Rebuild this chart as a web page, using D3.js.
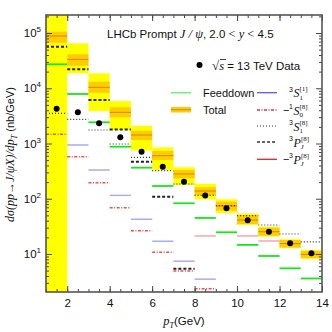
<!DOCTYPE html>
<html><head><meta charset="utf-8">
<script src="https://cdn.jsdelivr.net/npm/d3@7"></script>
<style>body{margin:0;background:#fff} svg{display:block}</style>
</head><body><svg id="c" width="332" height="332"></svg>
<script>
// ---- data ----
const binEdges = [1,2,3,4,5,6,7,8,9,10,11,12,13,14];
const dataValues     = [4266,3670,2322,1295,711,380,204,114,67,40.7,25.3,15.6,10.3];
const totalCentral   = [88300,33400,10400,3670,1425,601,281,138,74,41.2,25.3,15.4,9.8];
const totalOuterLow  = [1,18650,3873,1755,741,331,177,96.9,55.2,33.5,20.6,12.7,8.1];
const totalOuterHigh = [1e6,65100,18650,5880,2100,853,371,185,97.7,54.1,31.2,18.5,11.8];
const totalInnerLow  = [66700,25600,8300,2980,1157,503,234,117,60.8,34.9,21.4,13.1,8.5];
const totalInnerHigh = [105600,41150,13150,4520,1706,731,331,161,88.5,50.8,29.9,17.9,11.3];
const feeddown       = [27130,7870,2420,875,365,170,82.8,44.9,24.7,14.6,9.2,5.5,3.6];
const s1Singlet      = [null,940,331,115,42.5,17.0,7.4,3.5,null,null,null,null,null];
const s0OctetNeg     = [1468,577,195,68.9,26.4,10.7,4.9,2.35,null,null,null,null,null];
const s1Octet        = [3520,2740,1755,979,562,322,185,115,74.8,49.3,33.5,23.0,16.5];
const pjOctet        = [56500,22000,6130,1792,469,109,5.4,null,null,null,null,null,null];
const pjOctetNeg     = [null,null,null,null,null,null,null,21.2,null,21.2,17.2,null,null];
const yTickValues = [10,100,1000,10000,100000];
const yTickExponents = ["1","2","3","4","5"];
const xTickValues = [2,4,6,8,10,12,14];
const xTickLabels = ["2","4","6","8","10","12","14"];

const svg = d3.select("#c");
const L=46,R=322,T=15,B=292;
const x = d3.scaleLinear().domain([1,14]).range([L,R]);
const y = d3.scaleLog().domain([2.05,2.12e5]).range([B,T]);
const SANS = "'Liberation Sans', Arial, sans-serif";
const SERIF = "'Liberation Serif', 'DejaVu Serif', serif";

svg.append("defs").append("clipPath").attr("id","clip")
  .append("rect").attr("x",L).attr("y",T).attr("width",R-L).attr("height",B-T);
const plot = svg.append("g").attr("clip-path","url(#clip)");
const bins = d3.range(binEdges.length-1);

// total bands
plot.selectAll(".outer").data(bins).join("rect")
  .attr("x",i=>x(binEdges[i])).attr("width",i=>x(binEdges[i+1])-x(binEdges[i]))
  .attr("y",i=>y(totalOuterHigh[i])).attr("height",i=>y(totalOuterLow[i])-y(totalOuterHigh[i]))
  .attr("fill","#ffff00");
plot.selectAll(".inner").data(bins).join("rect")
  .attr("x",i=>x(binEdges[i])).attr("width",i=>x(binEdges[i+1])-x(binEdges[i]))
  .attr("y",i=>y(totalInnerHigh[i])).attr("height",i=>y(totalInnerLow[i])-y(totalInnerHigh[i]))
  .attr("fill","#ffcc00");

function segs(vals, style){
  const idx = bins.filter(i=>vals[i]!=null);
  const s = plot.append("g").selectAll("line").data(idx).join("line")
    .attr("x1",i=>x(binEdges[i])).attr("x2",i=>x(binEdges[i+1]))
    .attr("y1",i=>y(vals[i])).attr("y2",i=>y(vals[i]));
  for (const k in style) s.attr(k, style[k]);
}
segs(totalCentral,{stroke:"#c88a10","stroke-width":1});
segs(s1Singlet,{stroke:"#a9acf2","stroke-width":1.5});
segs(pjOctetNeg,{stroke:"#f4a8a8","stroke-width":1.5});
segs(s0OctetNeg,{stroke:"#f03030","stroke-width":1.5,"stroke-dasharray":"3,1.5,1,1.5","stroke-opacity":0.85});
segs(s1Octet,{stroke:"#333","stroke-width":1.2,"stroke-dasharray":"1,2"});
segs(pjOctet,{stroke:"#222","stroke-width":2,"stroke-dasharray":"3,2"});
segs(feeddown,{stroke:"#19e619","stroke-width":1.8});

plot.selectAll(".dot").data(bins).join("circle")
  .attr("cx",i=>x((binEdges[i]+binEdges[i+1])/2)).attr("cy",i=>y(dataValues[i]))
  .attr("r",3).attr("fill","#000");

// axes (ticks inside)
function clean(g){ g.select(".domain").remove(); g.selectAll("line").attr("stroke","#444"); }
const minorX = d3.range(1,14.001,0.5);
svg.append("g").attr("transform",`translate(0,${B})`).call(d3.axisBottom(x).tickValues(minorX).tickSize(-3).tickFormat("")).call(clean);
svg.append("g").attr("transform",`translate(0,${T})`).call(d3.axisTop(x).tickValues(minorX).tickSize(-3).tickFormat("")).call(clean);
svg.append("g").attr("transform",`translate(0,${T})`).call(d3.axisTop(x).tickValues(xTickValues).tickSize(-6).tickFormat("")).call(clean);
const xb = svg.append("g").attr("transform",`translate(0,${B})`)
  .call(d3.axisBottom(x).tickValues(xTickValues).tickSize(-6).tickPadding(7).tickFormat((d,i)=>xTickLabels[i])).call(clean);
xb.selectAll("text").attr("font-family",SANS).attr("font-size",11.5).attr("fill","#111");

const minorY = [];
for (const dec of [1,10,100,1000,10000,100000]) for (let m=2;m<=9;m++){ const v=m*dec; if(v>=2.05&&v<=2.12e5) minorY.push(v); }
svg.append("g").attr("transform",`translate(${L},0)`).call(d3.axisLeft(y).tickValues(minorY).tickSize(-3).tickFormat("")).call(clean);
svg.append("g").attr("transform",`translate(${R},0)`).call(d3.axisRight(y).tickValues(minorY).tickSize(-3).tickFormat("")).call(clean);
svg.append("g").attr("transform",`translate(${L},0)`).call(d3.axisLeft(y).tickValues(yTickValues).tickSize(-6).tickFormat("")).call(clean);
svg.append("g").attr("transform",`translate(${R},0)`).call(d3.axisRight(y).tickValues(yTickValues).tickSize(-6).tickFormat("")).call(clean);

yTickValues.forEach((v,i)=>{
  const t = svg.append("text").attr("x",41).attr("y",y(v)+4).attr("text-anchor","end")
    .attr("font-family",SANS).attr("font-size",11.5).attr("fill","#111");
  t.append("tspan").text("10");
  t.append("tspan").attr("font-size",8).attr("dy",-5).text(yTickExponents[i]);
});

svg.append("rect").attr("x",L).attr("y",T).attr("width",R-L).attr("height",B-T)
  .attr("fill","none").attr("stroke","#555").attr("stroke-width",1.6);

// title
const tt = svg.append("text").attr("x",107).attr("y",37.5).attr("font-family",SANS).attr("font-size",11.5).attr("fill","#111");
tt.append("tspan").text("LHCb Prompt ");
tt.append("tspan").attr("font-family",SERIF).attr("font-style","italic").attr("font-size",12.5).text("J / ψ");
tt.append("tspan").text(", 2.0 ");
tt.append("tspan").attr("font-family",SERIF).attr("font-size",12.5).text("<");
tt.append("tspan").attr("font-family",SERIF).attr("font-style","italic").attr("font-size",12.5).text(" y ");
tt.append("tspan").attr("font-family",SERIF).attr("font-size",12.5).text("<");
tt.append("tspan").text(" 4.5");

// legend: data
svg.append("circle").attr("cx",199.5).attr("cy",65).attr("r",3).attr("fill","#000");
const ds = svg.append("text").attr("x",212).attr("y",69.5).attr("font-family",SANS).attr("font-size",11.5).attr("fill","#111");
ds.append("tspan").attr("font-family",SERIF).attr("font-size",13).text("√");
ds.append("tspan").attr("font-family",SERIF).attr("font-style","italic").attr("font-size",12.5).text("s");
ds.append("tspan").text(" = 13 TeV  Data");
svg.append("line").attr("x1",220).attr("x2",226).attr("y1",59.5).attr("y2",59.5).attr("stroke","#111").attr("stroke-width",0.8);

// legend left column
svg.append("line").attr("x1",171).attr("x2",191).attr("y1",92.7).attr("y2",92.7).attr("stroke","#70f070").attr("stroke-width",1.5);
svg.append("text").attr("x",203).attr("y",96.7).attr("font-family",SANS).attr("font-size",11).attr("fill","#111").text("Feeddown");
svg.append("rect").attr("x",171).attr("y",107).attr("width",20).attr("height",5.5).attr("fill","#ffcc00");
svg.append("line").attr("x1",171).attr("x2",191).attr("y1",109.7).attr("y2",109.7).attr("stroke","#c88a10").attr("stroke-width",1);
svg.append("text").attr("x",203).attr("y",113.7).attr("font-family",SANS).attr("font-size",11).attr("fill","#111").text("Total");

// legend right column
const legendRows = [
  {yc:92.7, minus:false, pre:"3", sub:"1", sup:"[1]", style:{stroke:"#5a5ae8","stroke-width":1.3}},
  {yc:110,  minus:true,  pre:"1", sub:"0", sup:"[8]", style:{stroke:"#f03030","stroke-width":1.3,"stroke-dasharray":"3,1.5,1,1.5"}},
  {yc:126,  minus:false, pre:"3", sub:"1", sup:"[8]", style:{stroke:"#333","stroke-width":1.1,"stroke-dasharray":"1,2"}},
  {yc:142,  minus:false, pre:"3", sub:"J", sup:"[8]", P:true, style:{stroke:"#333","stroke-width":1.6,"stroke-dasharray":"3,2"}},
  {yc:159.3,minus:true,  pre:"3", sub:"J", sup:"[8]", P:true, style:{stroke:"#e82020","stroke-width":1.3}}
];
legendRows.forEach(r=>{
  const ln = svg.append("line").attr("x1",257).attr("x2",277).attr("y1",r.yc).attr("y2",r.yc);
  for (const k in r.style) ln.attr(k,r.style[k]);
  const sx = 293.5, base = r.yc+4.5;
  if (r.minus) svg.append("text").attr("x",283).attr("y",base-1).attr("font-family",SANS).attr("font-size",11).attr("fill","#111").text("−");
  svg.append("text").attr("x",289).attr("y",base-5.5).attr("font-family",SANS).attr("font-size",7).attr("fill","#111").text(r.pre);
  svg.append("text").attr("x",sx).attr("y",base).attr("font-family",SERIF).attr("font-style","italic").attr("font-size",12).attr("fill","#111").text(r.P?"P":"S");
  svg.append("text").attr("x",sx+(r.P?7:6)).attr("y",base+2.5).attr("font-family",SERIF).attr("font-style",r.sub==="J"?"italic":"normal").attr("font-size",7).attr("fill","#111").text(r.sub);
  svg.append("text").attr("x",sx+(r.P?7.5:6)).attr("y",base-6).attr("font-family",SERIF).attr("font-size",7).attr("fill","#111").text(r.sup);
});

// axis titles
const xl = svg.append("text").attr("x",184).attr("y",325).attr("text-anchor","middle").attr("font-family",SANS).attr("font-size",11.5).attr("fill","#111");
xl.append("tspan").attr("font-family",SERIF).attr("font-style","italic").attr("font-size",12.5).text("p");
xl.append("tspan").attr("font-family",SERIF).attr("font-style","italic").attr("font-size",8).attr("dy",2.5).text("T");
xl.append("tspan").attr("dy",-2.5).text("(GeV)");

const yl = svg.append("text").attr("transform","translate(14,154.5) rotate(-90)").attr("text-anchor","middle")
  .attr("font-family",SANS).attr("font-size",11).attr("fill","#111");
yl.append("tspan").attr("font-family",SERIF).attr("font-style","italic").attr("font-size",12).text("dσ(pp→J/ψX)/dp");
yl.append("tspan").attr("font-family",SERIF).attr("font-style","italic").attr("font-size",8).attr("dy",2.5).text("T");
yl.append("tspan").attr("dy",-2.5).text(" (nb/GeV)");
</script></body></html>
